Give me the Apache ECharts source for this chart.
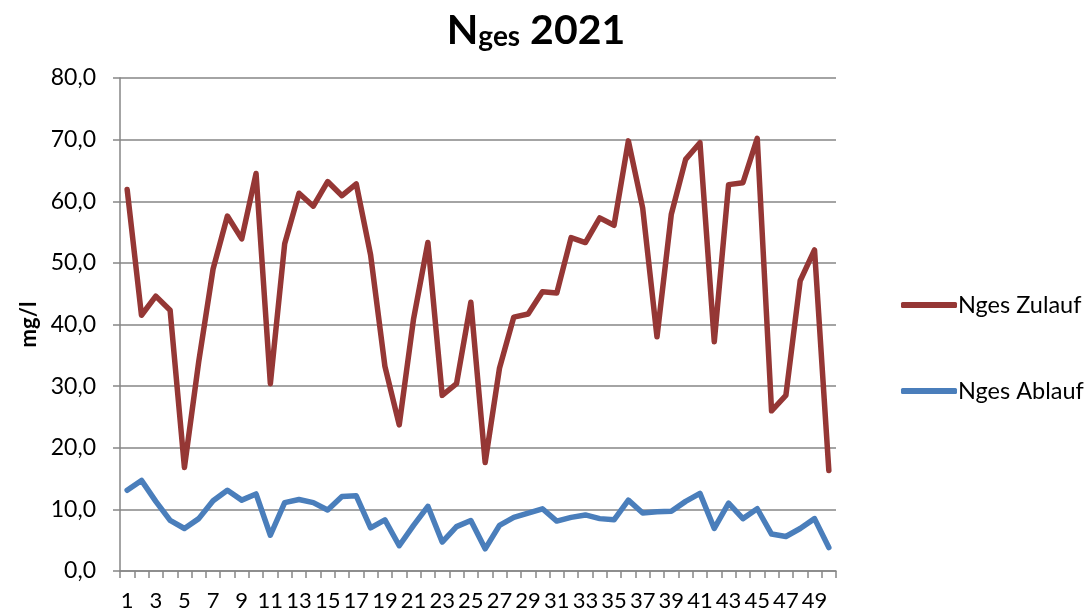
<!DOCTYPE html>
<html>
<head>
<meta charset="utf-8">
<script src="https://cdn.jsdelivr.net/npm/echarts@6/dist/echarts.min.js"></script>
<style>
  html, body { margin: 0; padding: 0; background: #fff; }
  #chart { width: 1089px; height: 616px; }
</style>
</head>
<body>
<div id="chart"></div>
<script>
// Sampling weeks 1..50
const weeks = Array.from({ length: 50 }, (_, i) => String(i + 1));

// Total nitrogen, inflow (mg/l)
const zulauf = [
  61.9, 41.5, 44.6, 42.3, 16.8, 34.0, 49.0, 57.6, 53.9, 64.5,
  30.4, 53.1, 61.3, 59.2, 63.2, 60.9, 62.8, 51.3, 33.2, 23.7,
  40.9, 53.3, 28.5, 30.4, 43.6, 17.6, 32.9, 41.2, 41.7, 45.3,
  45.1, 54.1, 53.3, 57.3, 56.1, 69.8, 58.9, 38.0, 57.9, 66.8,
  69.5, 37.2, 62.7, 63.0, 70.2, 26.0, 28.5, 47.1, 52.1, 16.3
];

// Total nitrogen, outflow (mg/l)
const ablauf = [
  13.1, 14.7, 11.3, 8.2, 6.9, 8.5, 11.4, 13.1, 11.5, 12.5,
  5.8, 11.1, 11.6, 11.1, 9.9, 12.1, 12.2, 7.0, 8.3, 4.1,
  7.4, 10.5, 4.7, 7.2, 8.2, 3.6, 7.4, 8.7, 9.4, 10.1,
  8.1, 8.7, 9.1, 8.5, 8.3, 11.5, 9.4, 9.6, 9.7, 11.3,
  12.6, 6.9, 11.0, 8.5, 10.1, 6.0, 5.6, 6.9, 8.5, 3.8
];

const seriesNames = ['Nges Zulauf', 'Nges Ablauf'];
const seriesColors = ['#953735', '#4a7ebb'];

const FONT = 'Lato, "Open Sans", sans-serif';
const GRID_GRAY = '#868686';

const chart = echarts.init(document.getElementById('chart'));

function legendFor(name, top) {
  return {
    data: [name],
    orient: 'vertical',
    left: 896,
    top: top,
    icon: 'roundRect',
    itemWidth: 56,
    itemHeight: 6,
    itemGap: 0,
    textStyle: { fontFamily: FONT, fontSize: 23.5, color: '#000', padding: [0, 0, 0, -4] }
  };
}

chart.setOption({
  animation: false,
  backgroundColor: '#ffffff',
  title: {
    text: '{big|N}{small|ges}{big| 2021}',
    left: 531,
    textAlign: 'center',
    top: 5,
    textStyle: {
      rich: {
        big: { fontFamily: FONT, fontWeight: 'bold', fontSize: 41, color: '#000', verticalAlign: 'bottom' },
        small: { fontFamily: FONT, fontWeight: 'bold', fontSize: 28, color: '#000', verticalAlign: 'bottom' }
      }
    }
  },
  legend: [legendFor(seriesNames[0], 288), legendFor(seriesNames[1], 374)],
  grid: { left: 120, right: 253, top: 78, bottom: 45, containLabel: false },
  xAxis: {
    type: 'category',
    data: weeks,
    boundaryGap: true,
    axisLine: { lineStyle: { color: GRID_GRAY, width: 1.5 } },
    axisTick: { show: true, alignWithLabel: false, interval: 0, length: 7, lineStyle: { color: GRID_GRAY, width: 1.5 } },
    axisLabel: { interval: 1, margin: 19, fontFamily: FONT, fontSize: 22, color: '#000', hideOverlap: false },
    splitLine: { show: false }
  },
  yAxis: {
    type: 'value',
    min: 0,
    max: 80,
    interval: 10,
    name: 'mg/l',
    nameLocation: 'middle',
    nameGap: 80,
    nameRotate: 90,
    nameTextStyle: { fontFamily: FONT, fontWeight: 'bold', fontSize: 22, color: '#000' },
    axisLine: { show: true, lineStyle: { color: GRID_GRAY, width: 1.5 } },
    axisTick: { show: true, length: 7, lineStyle: { color: GRID_GRAY, width: 1.5 } },
    axisLabel: {
      margin: 24,
      fontFamily: FONT,
      fontSize: 23,
      color: '#000',
      formatter: v => v.toFixed(1).replace('.', ',')
    },
    splitLine: { show: true, lineStyle: { color: GRID_GRAY, width: 1.5 } }
  },
  series: [
    {
      name: seriesNames[0],
      type: 'line',
      data: zulauf,
      symbol: 'none',
      color: seriesColors[0],
      lineStyle: { width: 5.5, color: seriesColors[0], join: 'round', cap: 'round' }
    },
    {
      name: seriesNames[1],
      type: 'line',
      data: ablauf,
      symbol: 'none',
      color: seriesColors[1],
      lineStyle: { width: 5.5, color: seriesColors[1], join: 'round', cap: 'round' }
    }
  ]
});
</script>
</body>
</html>
